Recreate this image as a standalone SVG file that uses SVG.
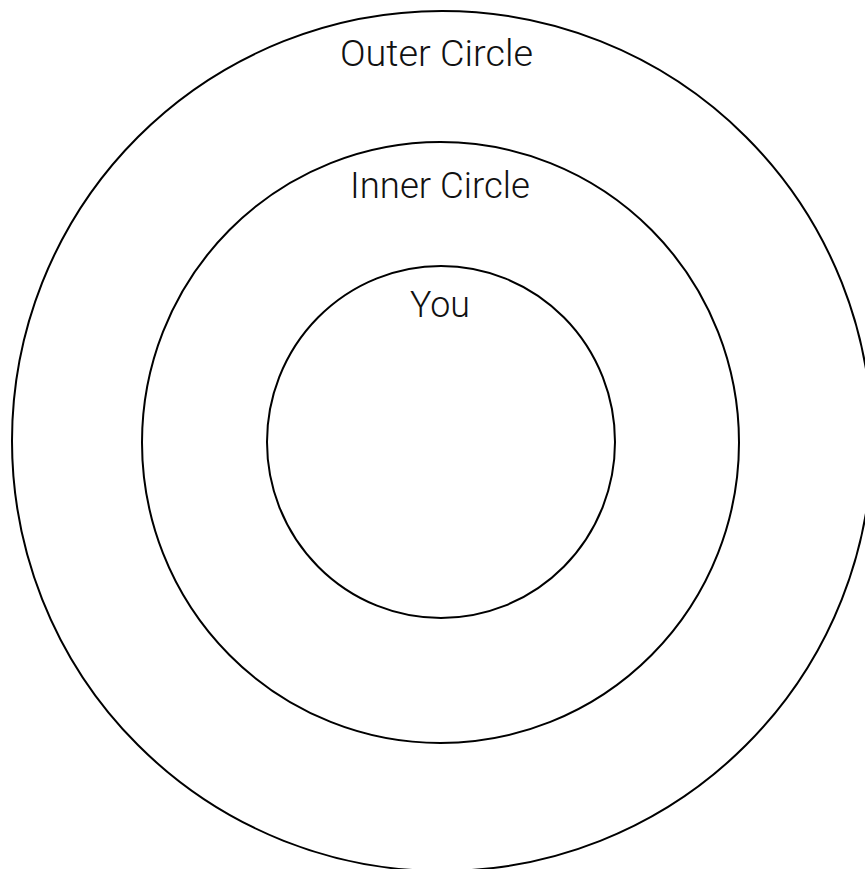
<svg xmlns="http://www.w3.org/2000/svg" width="865" height="869" viewBox="0 0 865 869">
<style>
.ring{fill:none;stroke:#000;stroke-width:2}
.lbl{font-family:Roboto,"Liberation Sans",sans-serif;font-weight:300;font-size:37px;fill:#111;text-anchor:middle}
</style>
<rect width="865" height="869" fill="#fff"/>
<g id="outer">
<ellipse class="ring" cx="442" cy="441" rx="430" ry="430"/>
<text class="lbl" x="436.5" y="66" textLength="193" lengthAdjust="spacingAndGlyphs">Outer Circle</text>
</g>
<g id="inner">
<ellipse class="ring" cx="440.5" cy="442.5" rx="298.5" ry="300.5"/>
<text class="lbl" x="440" y="198" textLength="180" lengthAdjust="spacingAndGlyphs">Inner Circle</text>
</g>
<g id="you">
<ellipse class="ring" cx="441" cy="442" rx="174" ry="176"/>
<text class="lbl" x="440" y="317" textLength="60" lengthAdjust="spacingAndGlyphs">You</text>
</g>
<g id="connectors"/>
</svg>
